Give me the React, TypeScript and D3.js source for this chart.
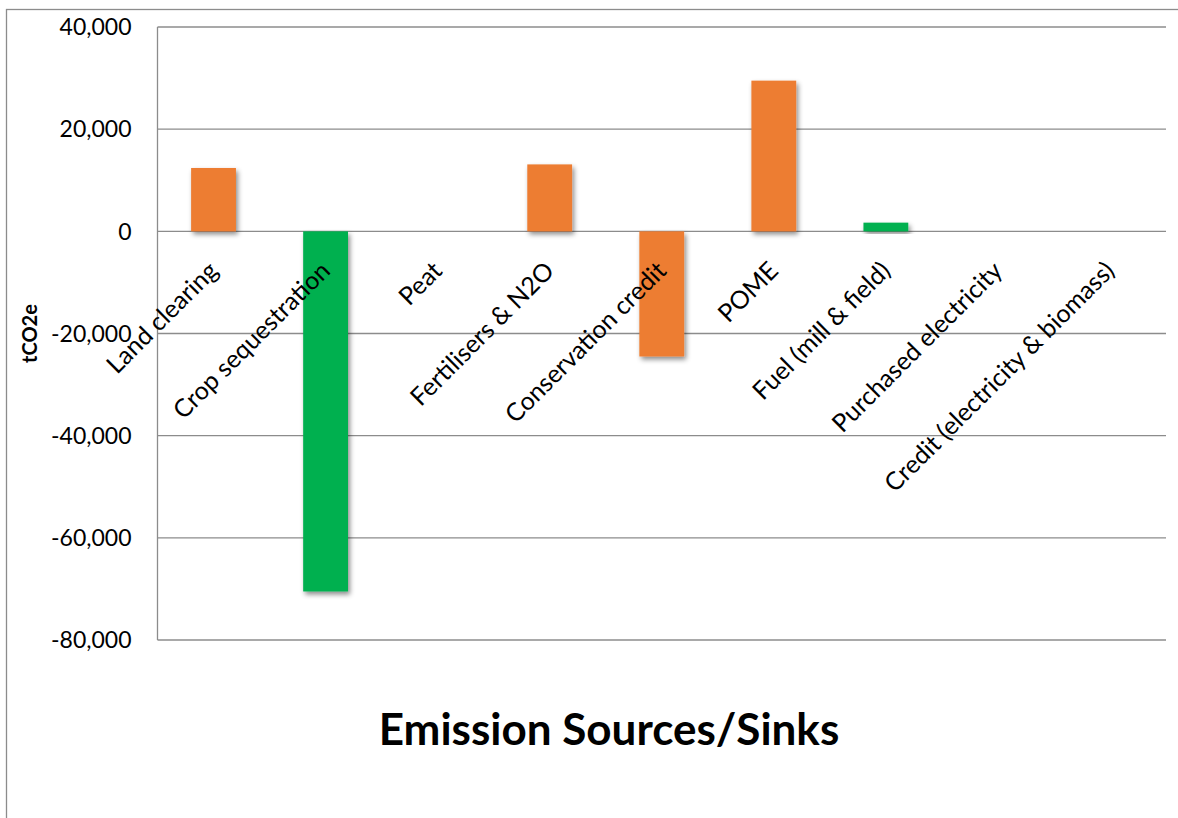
import React, { useEffect, useRef } from 'react';
import * as d3 from 'd3';

const categories = [
  'Land clearing',
  'Crop sequestration',
  'Peat',
  'Fertilisers & N2O',
  'Conservation credit',
  'POME',
  'Fuel (mill & field)',
  'Purchased electricity',
  'Credit (electricity & biomass)',
];
const values = [12400, -70500, 0, 13100, -24500, 29500, 1700, 0, 0];
const barColors = ['#ED7D31', '#00B050', '#ED7D31', '#ED7D31', '#ED7D31', '#ED7D31', '#00B050', '#ED7D31', '#ED7D31'];
const yTicks = [40000, 20000, 0, -20000, -40000, -60000, -80000];

const W = 1178;
const H = 818;

const App: React.FC = () => {
  const chartRef = useRef<SVGSVGElement>(null);

  useEffect(() => {
    drawChart();
  }, []);

  const drawChart = () => {
    const svg = d3.select(chartRef.current);
    svg.selectAll('*').remove();

    const font = 'Lato, "Open Sans", sans-serif';
    const grid = '#8c8c8c';

    // drop shadow for bars
    const defs = svg.append('defs');
    defs.append('filter')
      .attr('id', 'shadow')
      .attr('x', '-20%').attr('y', '-20%').attr('width', '150%').attr('height', '150%')
      .append('feDropShadow')
      .attr('dx', 2).attr('dy', 3)
      .attr('stdDeviation', 2.5)
      .attr('flood-color', '#000')
      .attr('flood-opacity', 0.45);

    // outer chart border (only left & top visible)
    svg.append('rect')
      .attr('x', 6.5).attr('y', 9.5)
      .attr('width', 1300).attr('height', 1000)
      .attr('fill', 'none')
      .attr('stroke', grid)
      .attr('stroke-width', 1.3);

    const margin = { top: 27, right: 12, bottom: 178, left: 157.5 };
    const width = W - margin.left - margin.right;
    const height = H - margin.top - margin.bottom;

    const g = svg.append('g').attr('transform', `translate(${margin.left},${margin.top})`);

    const x = d3.scaleBand()
      .domain(categories)
      .range([0, width])
      .paddingInner(0.6)
      .paddingOuter(0.3);

    const y = d3.scaleLinear()
      .domain([-80000, 40000])
      .range([height, 0]);

    // gridlines
    g.selectAll('line.grid')
      .data(yTicks)
      .enter().append('line')
      .attr('class', 'grid')
      .attr('x1', 0).attr('x2', width)
      .attr('y1', (d) => y(d)).attr('y2', (d) => y(d))
      .attr('stroke', grid)
      .attr('stroke-width', 1.3);

    // vertical axis line
    g.append('line')
      .attr('x1', 0).attr('x2', 0)
      .attr('y1', y(40000)).attr('y2', y(-80000))
      .attr('stroke', grid)
      .attr('stroke-width', 1.3);

    // y tick labels (plain hyphen for negatives, like the original)
    const fmt = d3.formatLocale({ decimal: '.', thousands: ',', grouping: [3], currency: ['', ''], minus: '-' }).format(',');
    g.selectAll('text.ytick')
      .data(yTicks)
      .enter().append('text')
      .attr('class', 'ytick')
      .attr('x', -26)
      .attr('y', (d) => y(d))
      .attr('dy', '0.36em')
      .attr('text-anchor', 'end')
      .attr('font-family', font)
      .attr('font-size', 23)
      .attr('fill', '#000')
      .text((d) => fmt(d));

    // bars
    g.selectAll('rect.bar')
      .data(values)
      .enter().append('rect')
      .attr('class', 'bar')
      .attr('x', (d, i) => x(categories[i]))
      .attr('y', (d) => y(Math.max(0, d)))
      .attr('width', x.bandwidth())
      .attr('height', (d) => Math.abs(y(d) - y(0)))
      .attr('fill', (d, i) => barColors[i])
      .attr('filter', (d) => (d === 0 ? null : 'url(#shadow)'));

    // category labels, rotated
    g.selectAll('text.xcat')
      .data(categories)
      .enter().append('text')
      .attr('class', 'xcat')
      .attr('transform', (d) => {
        const cx = x(d) + x.bandwidth() / 2;
        return `translate(${cx + 6},${y(0) + 41}) rotate(-45)`;
      })
      .attr('text-anchor', 'end')
      .attr('font-family', font)
      .attr('font-size', 25)
      .attr('fill', '#000')
      .text((d) => d);

    // y axis title
    svg.append('text')
      .attr('transform', `translate(37,${margin.top + height / 2}) rotate(-90)`)
      .attr('text-anchor', 'middle')
      .attr('font-family', font)
      .attr('font-weight', 'bold')
      .attr('font-size', 20)
      .text('tCO2e');

    // x axis title
    svg.append('text')
      .attr('x', 609)
      .attr('y', 745)
      .attr('text-anchor', 'middle')
      .attr('font-family', font)
      .attr('font-weight', 'bold')
      .attr('font-size', 44)
      .text('Emission Sources/Sinks');
  };

  return (
    <svg ref={chartRef} width={W} height={H} style={{ position: 'absolute', left: 0, top: 0, background: '#fff' }}>
    </svg>
  );
};

export default App;
